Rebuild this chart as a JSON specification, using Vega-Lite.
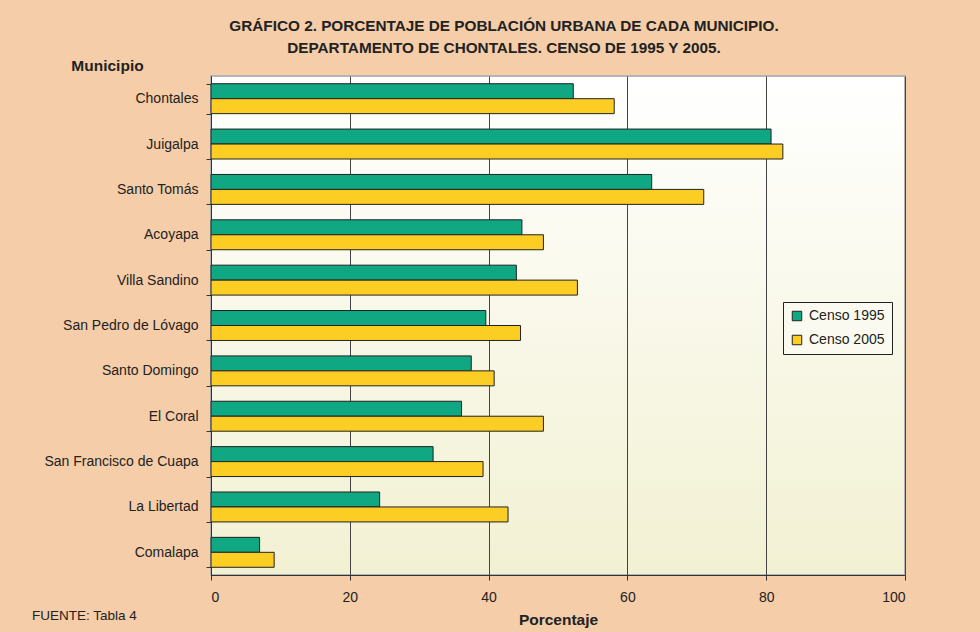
{
  "$schema": "https://vega.github.io/schema/vega-lite/v6.json",
  "width": 694,
  "height": 499,
  "autosize": {"type": "none"},
  "padding": {"left": 211, "top": 76, "right": 75, "bottom": 57},
  "background": "#F5CDA8",
  "config": {
    "font": "Liberation Sans",
    "view": {
      "fill": {"gradient": "linear", "x1": 0, "y1": 0, "x2": 0, "y2": 1, "stops": [{"offset": 0, "color": "#FFFFFF"}, {"offset": 1, "color": "#F2F1D3"}]},
      "stroke": "#B4B4B4",
      "strokeWidth": 2
    }
  },
  "title": {
    "text": ["GRÁFICO 2. PORCENTAJE DE POBLACIÓN URBANA DE CADA MUNICIPIO.", "DEPARTAMENTO DE CHONTALES. CENSO DE 1995 Y 2005."],
    "fontSize": 15.3,
    "fontWeight": "bold",
    "color": "#222222",
    "anchor": "middle",
    "dx": -54,
    "lineHeight": 22,
    "offset": 2
  },
  "data": {
    "values": [
      {"municipio": "Chontales", "censo": "Censo 1995", "valor": 52.2},
      {"municipio": "Chontales", "censo": "Censo 2005", "valor": 58.1},
      {"municipio": "Juigalpa", "censo": "Censo 1995", "valor": 80.7},
      {"municipio": "Juigalpa", "censo": "Censo 2005", "valor": 82.4},
      {"municipio": "Santo Tomás", "censo": "Censo 1995", "valor": 63.5},
      {"municipio": "Santo Tomás", "censo": "Censo 2005", "valor": 71.0},
      {"municipio": "Acoyapa", "censo": "Censo 1995", "valor": 44.8},
      {"municipio": "Acoyapa", "censo": "Censo 2005", "valor": 47.9},
      {"municipio": "Villa Sandino", "censo": "Censo 1995", "valor": 44.0},
      {"municipio": "Villa Sandino", "censo": "Censo 2005", "valor": 52.8},
      {"municipio": "San Pedro de Lóvago", "censo": "Censo 1995", "valor": 39.6},
      {"municipio": "San Pedro de Lóvago", "censo": "Censo 2005", "valor": 44.6},
      {"municipio": "Santo Domingo", "censo": "Censo 1995", "valor": 37.5},
      {"municipio": "Santo Domingo", "censo": "Censo 2005", "valor": 40.8},
      {"municipio": "El Coral", "censo": "Censo 1995", "valor": 36.1},
      {"municipio": "El Coral", "censo": "Censo 2005", "valor": 47.9},
      {"municipio": "San Francisco de Cuapa", "censo": "Censo 1995", "valor": 32.0},
      {"municipio": "San Francisco de Cuapa", "censo": "Censo 2005", "valor": 39.2},
      {"municipio": "La Libertad", "censo": "Censo 1995", "valor": 24.3},
      {"municipio": "La Libertad", "censo": "Censo 2005", "valor": 42.8},
      {"municipio": "Comalapa", "censo": "Censo 1995", "valor": 7.0},
      {"municipio": "Comalapa", "censo": "Censo 2005", "valor": 9.1}
    ]
  },
  "layer": [
    {
      "mark": {"type": "bar", "stroke": "#222222", "strokeWidth": 1},
      "encoding": {
        "y": {
          "field": "municipio",
          "type": "nominal",
          "sort": ["Chontales", "Juigalpa", "Santo Tomás", "Acoyapa", "Villa Sandino", "San Pedro de Lóvago", "Santo Domingo", "El Coral", "San Francisco de Cuapa", "La Libertad", "Comalapa"],
          "scale": {"paddingInner": 0.34, "paddingOuter": 0.17},
          "axis": {
            "title": "Municipio",
            "titleAngle": 0,
            "titleX": -104,
            "titleY": -11,
            "titleAlign": "center",
            "titleBaseline": "middle",
            "titleFontSize": 15.5,
            "titleFontWeight": "bold",
            "titleColor": "#222222",
            "labelFontSize": 14,
            "labelColor": "#222222",
            "labelPadding": 8,
            "tickSize": 5,
            "tickBand": "extent",
            "tickColor": "#333333",
            "domainColor": "#333333",
            "grid": false
          }
        },
        "yOffset": {"field": "censo", "type": "nominal", "sort": ["Censo 1995", "Censo 2005"]},
        "x": {
          "field": "valor",
          "type": "quantitative",
          "scale": {"domain": [0, 100]},
          "axis": {
            "title": "Porcentaje",
            "titleFontSize": 15.5,
            "titleFontWeight": "bold",
            "titleColor": "#222222",
            "values": [0, 20, 40, 60, 80, 100],
            "labelFontSize": 14,
            "labelColor": "#222222",
            "tickSize": 5,
            "labelPadding": 10,
            "titlePadding": 8,
            "grid": true,
            "gridColor": "#444444",
            "gridOpacity": 1,
            "domainColor": "#333333",
            "tickColor": "#333333"
          }
        },
        "color": {
          "field": "censo",
          "type": "nominal",
          "scale": {"domain": ["Censo 1995", "Censo 2005"], "range": ["#10A882", "#FCCD22"]},
          "legend": {
            "orient": "none",
            "legendX": 572,
            "legendY": 226,
            "title": null,
            "strokeColor": "#222222",
            "fillColor": "#FAFAF0",
            "padding": 7,
            "symbolType": "square",
            "symbolSize": 90,
            "symbolStrokeColor": "#222222",
            "symbolStrokeWidth": 1,
            "labelFontSize": 14,
            "labelColor": "#222222",
            "labelOffset": 5,
            "rowPadding": 10
          }
        }
      }
    },
    {
      "data": {"values": [{"fuente": "FUENTE: Tabla 4"}]},
      "mark": {"type": "text", "align": "left", "baseline": "middle", "dx": -179, "dy": 64, "fontSize": 13.5, "color": "#222222"},
      "encoding": {
        "x": {"datum": 0},
        "y": {"datum": "Comalapa"},
        "text": {"field": "fuente"}
      }
    }
  ]
}
